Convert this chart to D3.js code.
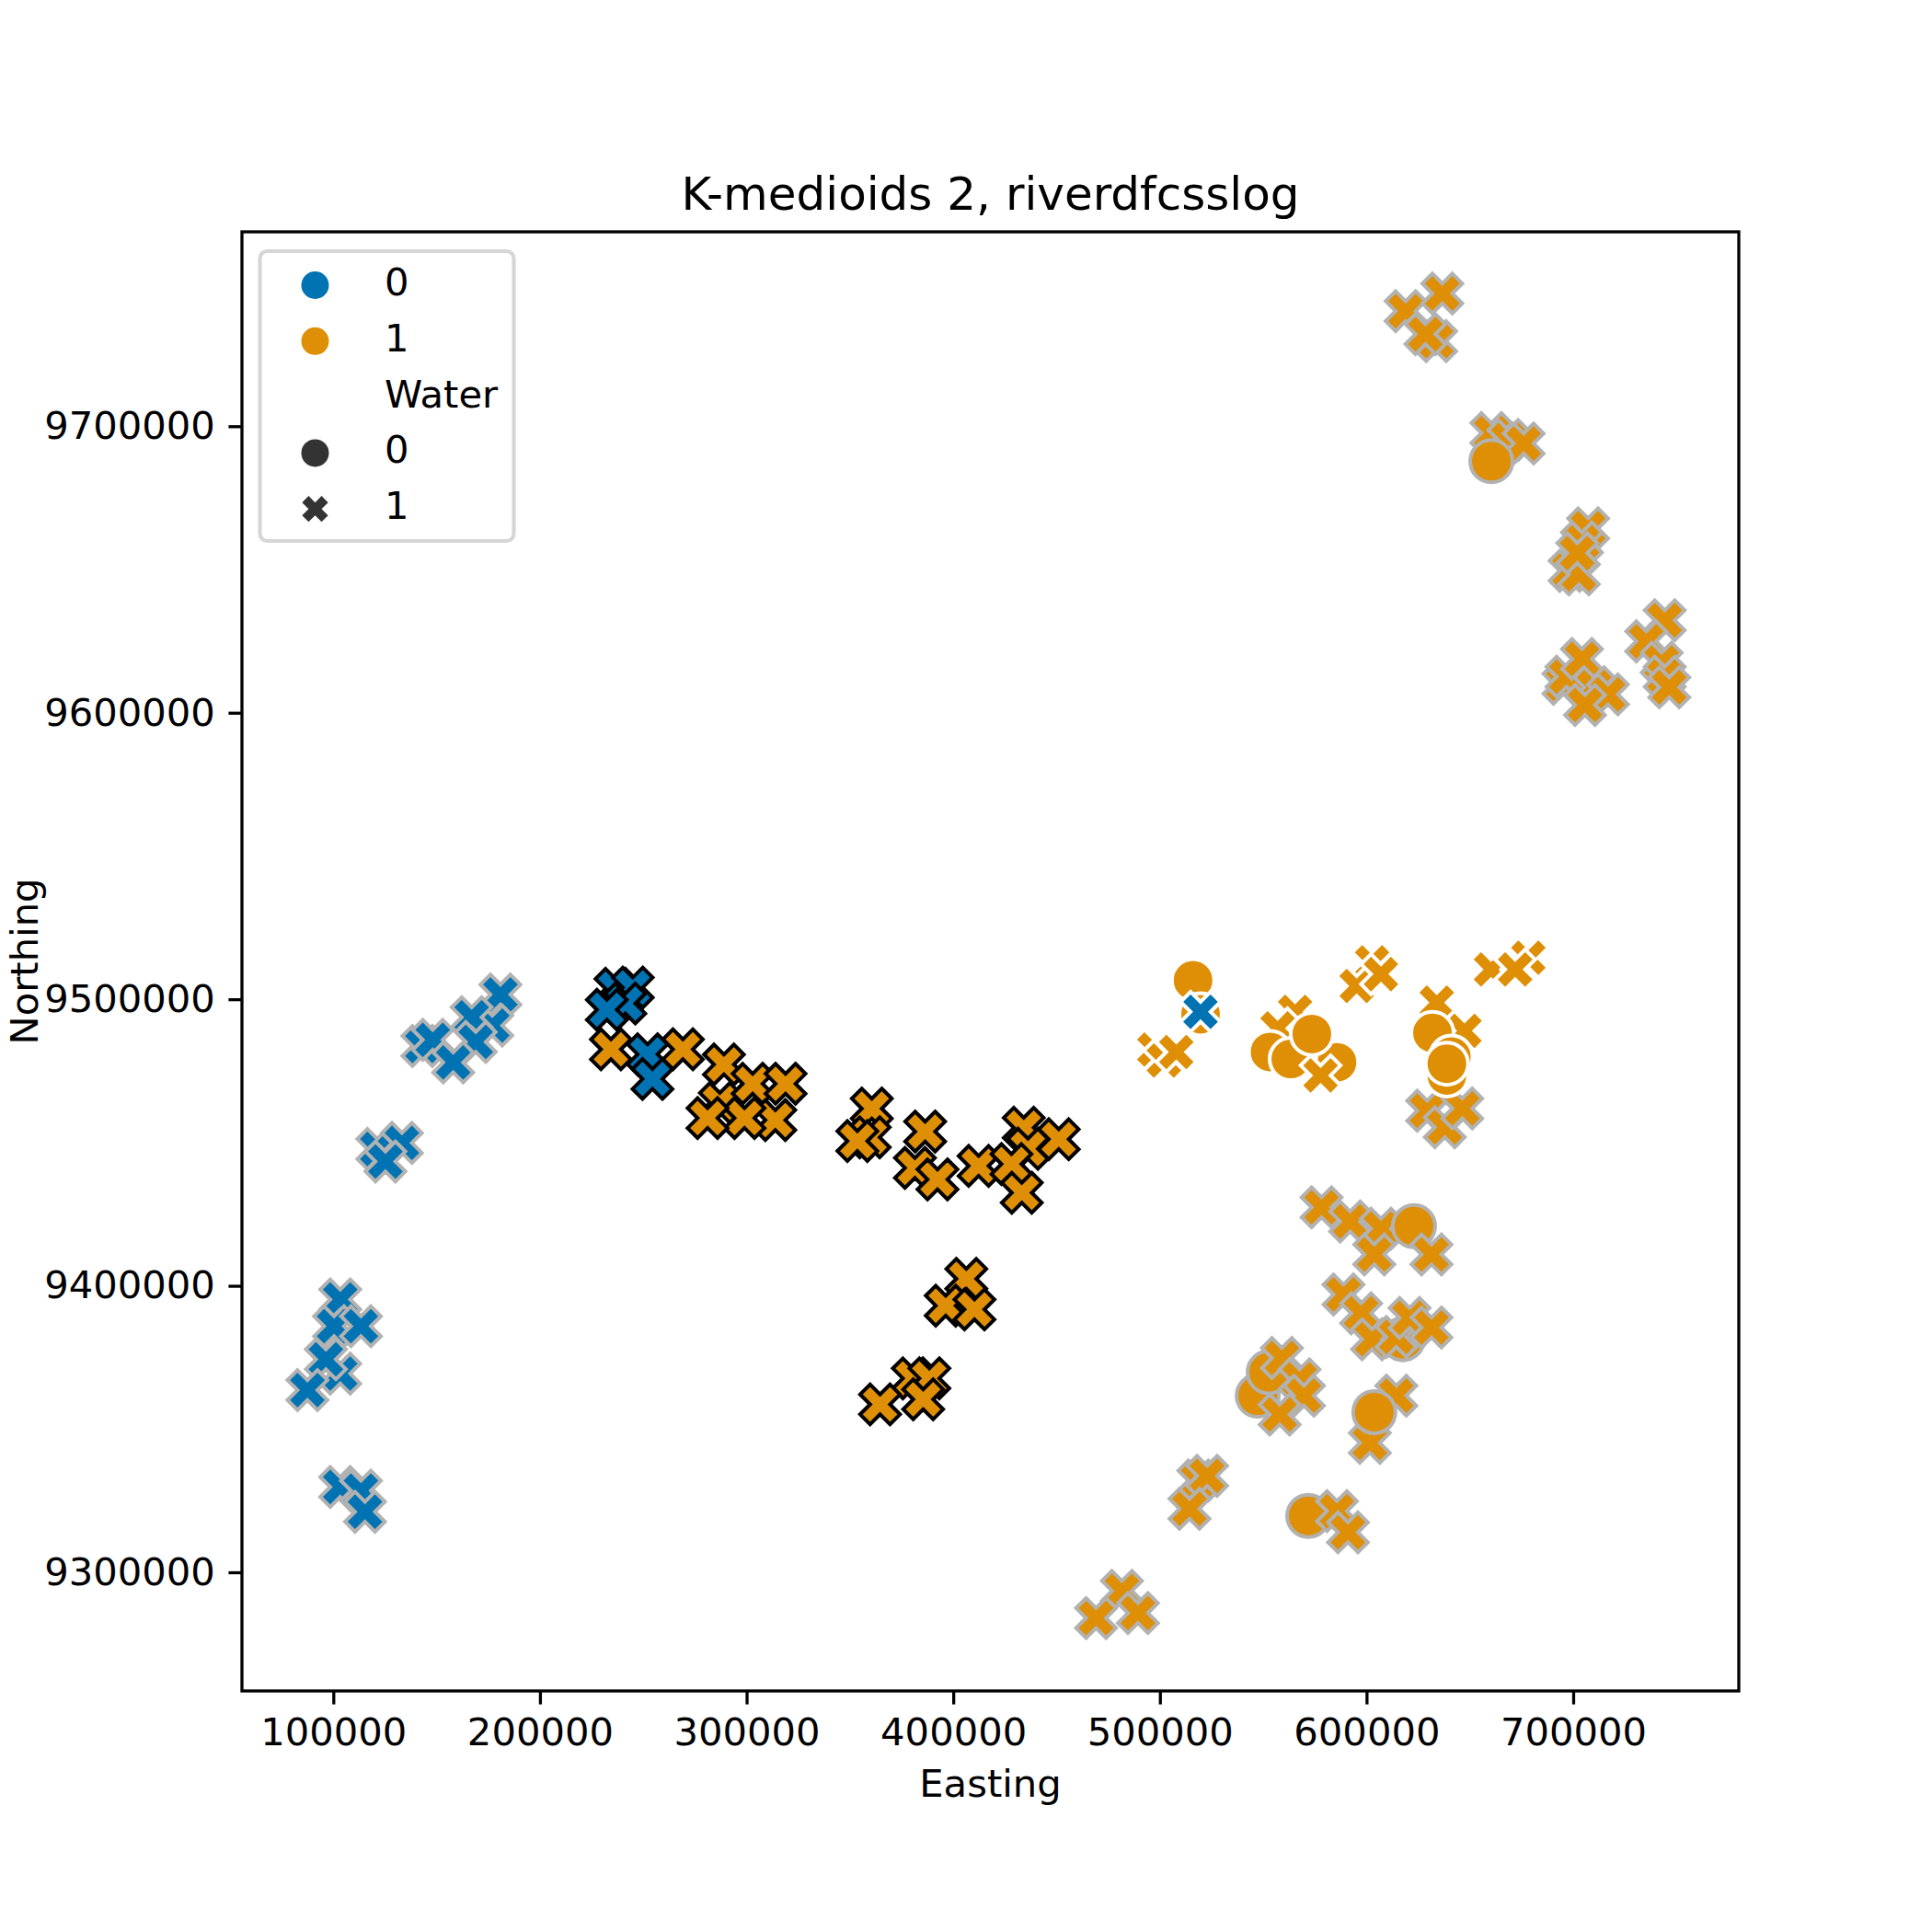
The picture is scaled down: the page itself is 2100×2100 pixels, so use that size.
<!DOCTYPE html>
<html>
<head>
<meta charset="utf-8">
<script src="https://cdn.jsdelivr.net/npm/d3@7"></script>
<style>
  body { margin: 0; background: #fff; }
  text { font-family: "DejaVu Sans", sans-serif; fill: #000; }
</style>
</head>
<body>
<div id="chart"></div>
<script>
const width = 2100
const height = 2100
const plotLeft = 263
const plotRight = 1890
const plotTop = 252
const plotBottom = 1838

const chartTitle = "K-medioids 2, riverdfcsslog"
const xLabel = "Easting"
const yLabel = "Northing"
const xTicks = [100000, 200000, 300000, 400000, 500000, 600000, 700000]
const yTicks = [9300000, 9400000, 9500000, 9600000, 9700000]
const xDomain = [55790, 780140]
const yDomain = [9258580, 9767850]
const clusterLabels = ["0", "1"]
const waterTitle = "Water"
const waterLabels = ["0", "1"]
const clusterColors = ["#0173b2", "#de8f05"]

// each point: [easting, northing, cluster, water]
// points plotted with grey outline
const greyEdgePoints = [
  [180860, 9501640, 0, 1], [176920, 9490850, 0, 1], [166960, 9493740, 0, 1],
  [168930, 9485110, 0, 1], [143110, 9483690, 0, 1], [148120, 9485850, 0, 1],
  [158020, 9477950, 0, 1], [121290, 9447750, 0, 1], [133210, 9449860, 0, 1],
  [125220, 9443390, 0, 1], [103340, 9395230, 0, 1], [100360, 9385870, 0, 1],
  [113360, 9385870, 0, 1], [103340, 9369340, 0, 1], [96420, 9374350, 0, 1],
  [87480, 9363600, 0, 1], [103340, 9329780, 0, 1], [113360, 9328490, 0, 1],
  [115330, 9321150, 0, 1],
  [618900, 9740170, 1, 1], [636670, 9746340, 1, 1], [633690, 9729690, 1, 1],
  [628500, 9732140, 1, 1], [660400, 9697630, 1, 1], [668570, 9695170, 1, 1],
  [676030, 9693960, 1, 1], [660400, 9687790, 1, 0], [707210, 9664360, 1, 1],
  [704230, 9659440, 1, 1], [698270, 9649560, 1, 1], [702740, 9648310, 1, 1],
  [701960, 9655730, 1, 1], [695290, 9610120, 1, 1], [696780, 9612580, 1, 1],
  [704230, 9618750, 1, 1], [710140, 9608870, 1, 1], [716810, 9606410, 1, 1],
  [705720, 9602700, 1, 1], [744290, 9632300, 1, 1], [735350, 9624920, 1, 1],
  [742800, 9617500, 1, 1], [744290, 9612580, 1, 1], [746500, 9608870, 1, 1],
  [629330, 9461080, 1, 1], [637860, 9455340, 1, 1], [646330, 9461900, 1, 1],
  [578230, 9427380, 1, 1], [592060, 9422460, 1, 1], [606970, 9419960, 1, 1],
  [622950, 9420820, 1, 0], [603750, 9410940, 1, 1], [631420, 9410940, 1, 1],
  [588840, 9396960, 1, 1], [597370, 9390400, 1, 1], [617580, 9381340, 1, 0],
  [602680, 9381340, 1, 1], [614420, 9382160, 1, 1], [620810, 9388760, 1, 1],
  [631420, 9385440, 1, 1], [547340, 9361620, 1, 0], [552650, 9369820, 1, 0],
  [559030, 9374780, 1, 1], [567560, 9367360, 1, 1], [569700, 9361620, 1, 1],
  [557960, 9355060, 1, 1], [614420, 9361620, 1, 1], [601600, 9345180, 1, 1],
  [603750, 9355880, 1, 0], [518600, 9332020, 1, 1], [522830, 9333660, 1, 1],
  [514310, 9322180, 1, 1], [571800, 9319680, 1, 0], [585690, 9321320, 1, 1],
  [591000, 9313940, 1, 1], [481630, 9293530, 1, 1], [469110, 9284040, 1, 1],
  [489380, 9285770, 1, 1]
]

// points plotted with black outline
const blackEdgePoints = [
  [236550, 9503670, 0, 1], [244900, 9504100, 0, 1], [241320, 9498490, 0, 1],
  [232380, 9496330, 0, 1],
  [234350, 9482520, 1, 1], [269170, 9482520, 1, 1], [289030, 9477220, 1, 1],
  [287060, 9463840, 1, 1], [302920, 9470530, 1, 1], [318840, 9470530, 1, 1],
  [313890, 9457840, 1, 1], [298980, 9458530, 1, 1], [281100, 9458530, 1, 1],
  [252060, 9480800, 0, 1], [254440, 9472170, 0, 1],
  [360580, 9461850, 1, 1], [359570, 9451840, 1, 1], [353600, 9450510, 1, 1],
  [386400, 9453830, 1, 1], [381450, 9441140, 1, 1], [392370, 9437130, 1, 1],
  [412280, 9441830, 1, 1], [434110, 9455160, 1, 1], [451040, 9451150, 1, 1],
  [436140, 9447830, 1, 1], [428150, 9442480, 1, 1], [433160, 9432470, 1, 1],
  [406320, 9402440, 1, 1], [396360, 9393070, 1, 1], [410260, 9391740, 1, 1],
  [380440, 9367700, 1, 1], [388430, 9367700, 1, 1], [364580, 9358600, 1, 1],
  [385450, 9360370, 1, 1]
]

// points plotted with white outline
const whiteEdgePoints = [
  [497320, 9482440, 1, 1], [501910, 9478640, 1, 1], [507930, 9481620, 1, 1],
  [565420, 9495600, 1, 1], [556950, 9489860, 1, 1],
  [516040, 9506600, 1, 0], [519670, 9494780, 1, 0], [553310, 9481620, 1, 0],
  [563330, 9479160, 1, 0], [585690, 9477990, 1, 0], [573520, 9487870, 1, 0],
  [577760, 9473420, 1, 1],
  [602690, 9512860, 1, 1], [595230, 9504660, 1, 1], [606980, 9508760, 1, 1],
  [678300, 9514500, 1, 1], [660230, 9510400, 1, 1], [671910, 9510400, 1, 1],
  [633990, 9498880, 1, 1], [647400, 9488990, 1, 1],
  [631900, 9488220, 1, 0], [641030, 9479980, 1, 0], [638880, 9473420, 1, 0],
  [638880, 9477520, 1, 0],
  [519670, 9495600, 0, 1]
]

const markerSize = 46
const legendMarkerSize = 30

// filled "X" marker, a plus sign turned by 45 degrees
const plusVerts = [[-1, -3], [1, -3], [1, -1], [3, -1], [3, 1], [1, 1],
                   [1, 3], [-1, 3], [-1, 1], [-3, 1], [-3, -1], [-1, -1]]
const xMarkerPath = size => {
  const k = size / 6 / Math.SQRT2
  return "M" + plusVerts.map(([a, b]) => `${((a - b) * k).toFixed(2)},${((a + b) * k).toFixed(2)}`).join("L") + "Z"
}
const circleMarkerPath = size => {
  const r = size / 2
  return `M${r},0A${r},${r} 0 1,1 ${-r},0A${r},${r} 0 1,1 ${r},0Z`
}
const markerPath = (water, size) => water === 0 ? circleMarkerPath(size) : xMarkerPath(size)

const svg = d3.select("#chart")
              .append("svg")
                .attr("width", width)
                .attr("height", height)

svg.append("rect")
   .attr("width", width)
   .attr("height", height)
   .attr("fill", "#fff")

// Set scales
const xScale = d3.scaleLinear()
                 .domain(xDomain)
                 .range([plotLeft, plotRight])

const yScale = d3.scaleLinear()
                 .domain(yDomain)
                 .range([plotBottom, plotTop])

// --- Points ---
const drawPoints = (points, edge) => {
  svg.append("g")
     .selectAll("path")
     .data(points)
     .join("path")
       .attr("d", d => markerPath(d[3], markerSize))
       .attr("transform", d => `translate(${xScale(d[0])},${yScale(d[1])})`)
       .attr("fill", d => clusterColors[d[2]])
       .attr("stroke", edge)
       .attr("stroke-width", 4)
       .attr("stroke-linejoin", "miter")
}

drawPoints(greyEdgePoints, "#b2b2b2")
drawPoints(blackEdgePoints, "#000")
drawPoints(whiteEdgePoints, "#fff")

// --- Axes ---
const xAxis = d3.axisBottom(xScale)
                .tickValues(xTicks)
                .tickFormat(d3.format("d"))
                .tickSize(14.6)
                .tickPadding(14.6)

const yAxis = d3.axisLeft(yScale)
                .tickValues(yTicks)
                .tickFormat(d3.format("d"))
                .tickSize(14.6)
                .tickPadding(14.6)

const gx = svg.append("g")
              .attr("transform", `translate(0, ${plotBottom})`)
              .call(xAxis)
const gy = svg.append("g")
              .attr("transform", `translate(${plotLeft}, 0)`)
              .call(yAxis)

for (const g of [gx, gy]) {
  g.select(".domain").remove()
  g.selectAll(".tick line").attr("stroke", "#000").attr("stroke-width", 3.3)
  g.selectAll(".tick text")
   .attr("font-family", "DejaVu Sans")
   .attr("font-size", 41.7)
   .attr("fill", "#000")
}

// frame
svg.append("rect")
   .attr("x", plotLeft)
   .attr("y", plotTop)
   .attr("width", plotRight - plotLeft)
   .attr("height", plotBottom - plotTop)
   .attr("fill", "none")
   .attr("stroke", "#000")
   .attr("stroke-width", 3.3)

// --- Labels ---
svg.append("text")
   .attr("x", (plotLeft + plotRight) / 2)
   .attr("y", 228)
   .attr("text-anchor", "middle")
   .attr("font-size", 50)
   .text(chartTitle)

svg.append("text")
   .attr("x", (plotLeft + plotRight) / 2)
   .attr("y", 1953)
   .attr("text-anchor", "middle")
   .attr("font-size", 41.7)
   .text(xLabel)

svg.append("text")
   .attr("transform", `translate(41, ${(plotTop + plotBottom) / 2}) rotate(-90)`)
   .attr("text-anchor", "middle")
   .attr("font-size", 41.7)
   .text(yLabel)

// --- Legend ---
const legend = svg.append("g")

legend.append("rect")
      .attr("x", 282.5)
      .attr("y", 273)
      .attr("width", 276)
      .attr("height", 315)
      .attr("rx", 8)
      .attr("fill", "#fff")
      .attr("stroke", "#d6d6d6")
      .attr("stroke-width", 4.2)

const legendRows = [
  ...clusterLabels.map((label, i) => ({ label, water: 0, color: clusterColors[i] })),
  { label: waterTitle, water: null, color: null },
  ...waterLabels.map((label, i) => ({ label, water: i, color: "#333333" }))
]

const legendTop = 310
const legendStep = 60.8

legendRows.forEach((row, i) => {
  const ry = legendTop + i * legendStep
  if (row.water !== null) {
    legend.append("path")
          .attr("d", markerPath(row.water, legendMarkerSize))
          .attr("transform", `translate(342.5, ${ry})`)
          .attr("fill", row.color)
  }
  legend.append("text")
        .attr("x", 418)
        .attr("y", ry + 11)
        .attr("font-size", 41.7)
        .text(row.label)
})
</script>
</body>
</html>
